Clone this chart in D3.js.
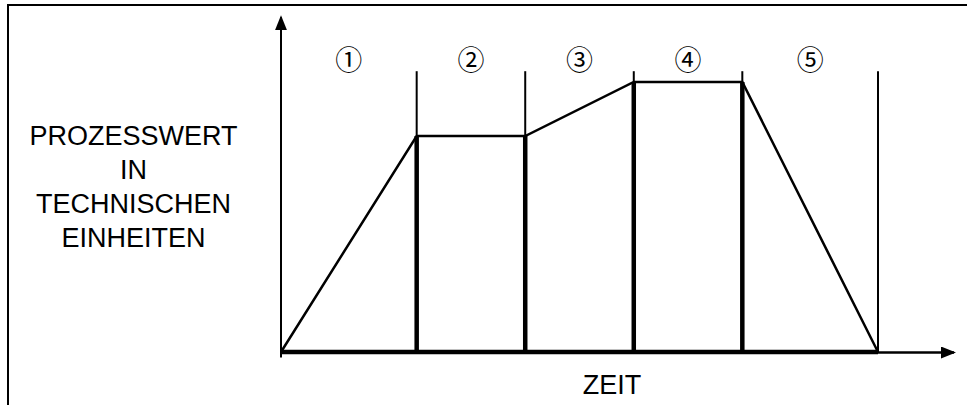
<!DOCTYPE html>
<html>
<head>
<meta charset="utf-8">
<script src="https://cdn.jsdelivr.net/npm/d3@7/dist/d3.min.js"></script>
<style>
    html, body { margin: 0; padding: 0; background: #fff; }
    svg { display: block; }
</style>
</head>
<body>
<svg id="chart" width="967" height="405"></svg>
<script>
// phases of the process, time in abstract units, value in % of max
var phaseLabels = ["\u2460", "\u2461", "\u2462", "\u2463", "\u2464"];
var phaseBounds = [0, 5, 9, 13, 17, 22];
var processValues = [0, 80, 80, 100, 100, 0];
var yTitleLines = ["PROZESSWERT", "IN", "TECHNISCHEN", "EINHEITEN"];
var xTitle = "ZEIT";

var timeEnd = 24.8,     // end of the time axis (arrow)
    valueEnd = 124,     // end of the value axis (arrow)
    boundTop = 104;     // top of the phase separators

var svg = d3.select("#chart");

var x = d3.scaleLinear().domain([0, 22]).range([281, 878]);
var y = d3.scaleLinear().domain([0, 100]).range([352, 82]);

// frame round the whole picture, runs off the right and bottom edge
svg.append("rect")
    .attr("x", 8).attr("y", 5)
    .attr("width", 1000).attr("height", 1000)
    .attr("fill", "none").attr("stroke", "#000").attr("stroke-width", 2);

svg.append("defs").append("marker")
    .attr("id", "arrow")
    .attr("markerUnits", "userSpaceOnUse")
    .attr("markerWidth", 16).attr("markerHeight", 12)
    .attr("refX", 13).attr("refY", 6)
    .attr("orient", "auto")
  .append("path")
    .attr("d", "M0,0L15,6L0,12Z")
    .attr("fill", "#000");

// value axis
svg.append("line")
    .attr("x1", x(0)).attr("x2", x(0))
    .attr("y1", y(-2)).attr("y2", y(valueEnd))
    .attr("stroke", "#000").attr("stroke-width", 2)
    .attr("marker-end", "url(#arrow)");

// time axis
svg.append("line")
    .attr("x1", x(0)).attr("x2", x(timeEnd))
    .attr("y1", y(0) + 0.5).attr("y2", y(0) + 0.5)
    .attr("stroke", "#000").attr("stroke-width", 2.5)
    .attr("marker-end", "url(#arrow)");

// phase separators: thin above the curve, heavy below it
var seps = phaseBounds.slice(1).map(function (t, i) {
    return { t: t, v: processValues[i + 1] };
});

svg.selectAll(".sep-top").data(seps).enter().append("line")
    .attr("class", "sep-top")
    .attr("x1", function (d) { return x(d.t); })
    .attr("x2", function (d) { return x(d.t); })
    .attr("y1", y(boundTop))
    .attr("y2", function (d) { return y(d.v); })
    .attr("stroke", "#000").attr("stroke-width", 2);

svg.selectAll(".sep-low").data(seps.filter(function (d) { return d.v > 0; }))
    .enter().append("line")
    .attr("class", "sep-low")
    .attr("x1", function (d) { return x(d.t); })
    .attr("x2", function (d) { return x(d.t); })
    .attr("y1", function (d) { return y(d.v); })
    .attr("y2", y(0))
    .attr("stroke", "#000").attr("stroke-width", 4.5);

// heavy base under the phases
svg.append("line")
    .attr("x1", x(0)).attr("x2", x(22))
    .attr("y1", y(0)).attr("y2", y(0))
    .attr("stroke", "#000").attr("stroke-width", 4.5);

// the process value
var line = d3.line()
    .x(function (d) { return x(d[0]); })
    .y(function (d) { return y(d[1]); });

svg.append("path")
    .datum(d3.zip(phaseBounds, processValues))
    .attr("d", line)
    .attr("fill", "none")
    .attr("stroke", "#000").attr("stroke-width", 2.5)
    .attr("stroke-linejoin", "miter");

// phase numbers
svg.selectAll(".phase").data(phaseLabels).enter().append("text")
    .attr("class", "phase")
    .attr("x", function (d, i) { return x((phaseBounds[i] + phaseBounds[i + 1]) / 2); })
    .attr("y", 58)
    .attr("dominant-baseline", "central")
    .attr("text-anchor", "middle")
    .style("font-family", "'Noto Sans CJK JP'")
    .style("font-size", "27px")
    .text(function (d) { return d; });

// titles
svg.selectAll(".ytitle").data(yTitleLines).enter().append("text")
    .attr("class", "ytitle")
    .attr("x", 133.5)
    .attr("y", function (d, i) { return 145 + i * 34; })
    .attr("text-anchor", "middle")
    .style("font-family", "'Liberation Sans', Arial, sans-serif")
    .style("font-size", "27px")
    .text(function (d) { return d; });

svg.append("text")
    .attr("x", 612)
    .attr("y", 394)
    .attr("text-anchor", "middle")
    .style("font-family", "'Liberation Sans', Arial, sans-serif")
    .style("font-size", "27px")
    .text(xTitle);
</script>
</body>
</html>
